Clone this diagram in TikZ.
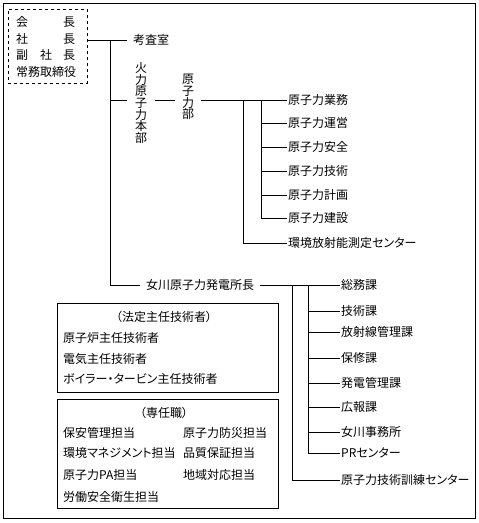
\documentclass[tikz,border=0pt]{standalone}
\usepackage{fontspec}
\setmainfont[RawFeature={+palt}]{Noto Sans CJK JP}
\begin{document}
\begin{tikzpicture}[x=1pt,y=-1pt,
  every node/.style={inner sep=0pt, font=\fontsize{12}{12}\selectfont},
  ln/.style={line width=0.8pt},
  lbl/.style={anchor=west, inner xsep=1pt},
  vtext/.style={align=center, font=\fontsize{12}{11.6}\selectfont},
  frame/.style={draw, ln, anchor=north west}]
\useasboundingbox (0,0) rectangle (479,523);
\draw[ln] (3,3) rectangle (475,518);
% executives
\node[frame, dashed, minimum width=79pt, minimum height=74pt] (exec) at (8,9) {};
\node[anchor=west] (e1a) at (16,22) {会};
\node[anchor=west] (e1b) at (63,22) {長};
\node[anchor=west] (e2a) at (16,39) {社};
\node[anchor=west] (e2b) at (63,39) {長};
\node[anchor=west] (e3a) at (16,55) {副};
\node[anchor=west] (e3c) at (40,55) {社};
\node[anchor=west] (e3b) at (63,55) {長};
\node[anchor=west] (e4) at (16,72) {常務取締役};
% kousa
\node[anchor=west, inner xsep=6pt] (kousa) at (127,40) {考査室};
\coordinate (t1) at (110,40);
\draw[ln] (t1 -| exec.east) -- (kousa.west);
% honbu
\node[vtext, inner xsep=8pt] (honbu) at (141,103) {火\\力\\原\\子\\力\\本\\部};
\node[vtext, inner xsep=7pt] (bu) at (188,97) {原\\子\\力\\部};
\coordinate (h) at (110,100);
\draw[ln] (h) -- (h -| honbu.west);
\draw[ln] (h -| honbu.east) -- (h -| bu.west);
\node[lbl] (n1) at (287,100) {原子力業務};
\node[lbl] (n2) at (287,123) {原子力運営};
\node[lbl] (n3) at (287,147) {原子力安全};
\node[lbl] (n4) at (287,171) {原子力技術};
\node[lbl] (n5) at (287,195) {原子力計画};
\node[lbl] (n6) at (287,218) {原子力建設};
\node[lbl] (env) at (287,243) {環境放射能測定センター};
\draw[ln] (h -| bu.east) -- (n1.west);
\coordinate (b1) at (243,100);
\coordinate (b2) at (261,100);
\draw[ln] (b1) |- (env.west);
\draw[ln] (b2) |- (n6.west);
\foreach \n in {n2,n3,n4,n5} \draw[ln] (b2 |- \n.west) -- (\n.west);
% plant
\node[anchor=west, inner xsep=6pt] (plant) at (140,285) {女川原子力発電所長};
\draw[ln] (t1) |- (plant.west);
\node[lbl] (s1) at (340,285) {総務課};
\node[lbl] (s2) at (340,311) {技術課};
\node[lbl] (s3) at (340,332) {放射線管理課};
\node[lbl] (s4) at (340,358) {保修課};
\node[lbl] (s5) at (340,383) {発電管理課};
\node[lbl] (s6) at (340,407) {広報課};
\node[lbl] (s7) at (340,432) {女川事務所};
\node[lbl] (s8) at (340,453) {PRセンター};
\node[lbl] (s9) at (340,480) {原子力技術訓練センター};
\draw[ln] (plant.east) -- (s1.west);
\coordinate (c1) at (292,285);
\coordinate (c2) at (308,285);
\draw[ln] (c1) |- (s9.west);
\draw[ln] (c2) |- (s8.west);
\foreach \n in {s2,s3,s4,s5,s6,s7} \draw[ln] (c2 |- \n.west) -- (\n.west);
% box 1
\node[frame, minimum width=221pt, minimum height=89pt] (box1) at (57,303) {};
\node (b1t) at (164,317) {（法定主任技術者）};
\node[anchor=west] (b1a) at (63,338) {原子炉主任技術者};
\node[anchor=west] (b1b) at (63,359) {電気主任技術者};
\node[anchor=west] (b1c) at (63,379) {ボイラー・タービン主任技術者};
% box 2
\node[frame, minimum width=221pt, minimum height=109pt] (box2) at (57,399) {};
\node (b2t) at (164,413) {（専任職）};
\node[anchor=west] (p1) at (63,433) {保安管理担当};
\node[anchor=west] (p2) at (183,433) {原子力防災担当};
\node[anchor=west] (p3) at (63,453) {環境マネジメント担当};
\node[anchor=west] (p4) at (183,453) {品質保証担当};
\node[anchor=west] (p5) at (63,475) {原子力PA担当};
\node[anchor=west] (p6) at (183,475) {地域対応担当};
\node[anchor=west] (p7) at (63,497) {労働安全衛生担当};
\end{tikzpicture}
\end{document}
